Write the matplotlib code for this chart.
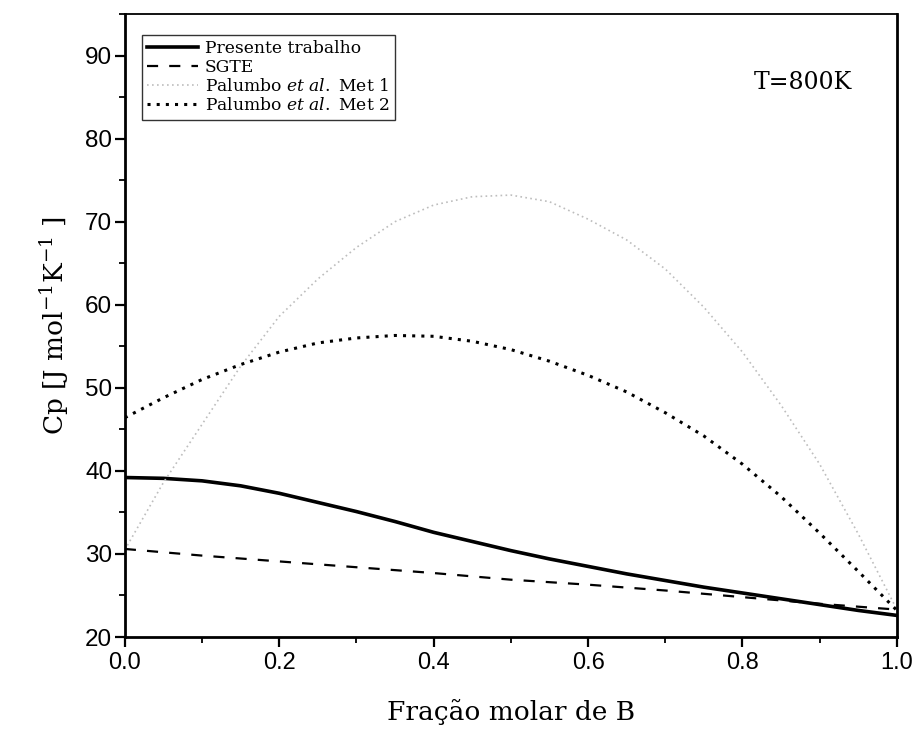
import numpy as np
import matplotlib
matplotlib.use("Agg")
import matplotlib.pyplot as plt
from matplotlib.ticker import MultipleLocator

# composition grid (molar fraction of B)
x = [0.0, 0.05, 0.1, 0.15, 0.2, 0.25, 0.3, 0.35, 0.4, 0.45, 0.5,
     0.55, 0.6, 0.65, 0.7, 0.75, 0.8, 0.85, 0.9, 0.95, 1.0]

# Cp values
presente = [39.2, 39.1, 38.8, 38.2, 37.3, 36.2, 35.1, 33.9, 32.6, 31.5, 30.4,
            29.4, 28.5, 27.6, 26.8, 26.0, 25.3, 24.6, 23.9, 23.2, 22.6]
sgte = [30.6, 30.2, 29.8, 29.45, 29.1, 28.75, 28.4, 28.05, 27.7, 27.3, 26.9,
        26.6, 26.3, 25.95, 25.6, 25.2, 24.8, 24.4, 24.0, 23.65, 23.3]
met1 = [30.5, 38.6, 45.6, 52.6, 58.6, 63.1, 66.9, 70.0, 72.0, 73.0, 73.2,
        72.4, 70.3, 67.8, 64.3, 59.7, 54.3, 47.9, 40.8, 32.4, 23.3]
met2 = [46.4, 48.8, 51.0, 52.8, 54.3, 55.4, 56.0, 56.3, 56.2, 55.6, 54.6,
        53.2, 51.5, 49.5, 47.0, 44.2, 40.8, 36.9, 32.5, 27.9, 23.2]

serif = "DejaVu Serif"
plt.rcParams["mathtext.fontset"] = "dejavuserif"

fig = plt.figure(figsize=(9.18, 7.36), dpi=100)
ax = fig.add_axes([0.136, 0.1345, 0.841, 0.8465])

ax.plot(x, presente, color="black", lw=2.6, label="Presente trabalho")
ax.plot(x, sgte, color="black", lw=1.6, dashes=(5, 5), label="SGTE")
ax.plot(x, met1, color="#bdbdbd", lw=1.2, dashes=(1, 2),
        label="Palumbo $\\it{et\\ al.}$ Met 1")
ax.plot(x, met2, color="black", lw=2.2, dashes=(1, 2),
        label="Palumbo $\\it{et\\ al.}$ Met 2")

ax.set_xlim(0, 1)
ax.set_ylim(20, 95)
ax.xaxis.set_major_locator(MultipleLocator(0.2))
ax.xaxis.set_minor_locator(MultipleLocator(0.1))
ax.yaxis.set_major_locator(MultipleLocator(10))
ax.yaxis.set_minor_locator(MultipleLocator(5))
ax.set_xticks([0, 0.2, 0.4, 0.6, 0.8, 1.0])
ax.set_xticklabels(["0.0", "0.2", "0.4", "0.6", "0.8", "1.0"],
                   family=["Liberation Sans Narrow", "Liberation Sans"], fontsize=17)
ax.set_yticks([20, 30, 40, 50, 60, 70, 80, 90])
ax.set_yticklabels(["20", "30", "40", "50", "60", "70", "80", "90"],
                   family="Liberation Sans", fontsize=17.5)

ax.tick_params(which="major", direction="out", length=7, width=1.6, pad=4)
ax.tick_params(axis="y", which="major", pad=2)
ax.tick_params(which="minor", direction="out", length=4, width=1.3)
ax.spines["left"].set_linewidth(2.0)
ax.spines["bottom"].set_linewidth(2.0)
ax.spines["right"].set_linewidth(2.0)
ax.spines["top"].set_linewidth(1.3)

ax.set_xlabel("Fração molar de B", family=serif, fontsize=19, labelpad=18)
ax.set_ylabel("Cp [J mol$^{\\mathregular{-1}}$K$^{\\mathregular{-1}}$ ]",
              family=serif, fontsize=19, labelpad=10)

ax.text(0.814, 0.89, "T=800K", transform=ax.transAxes, family=serif,
        fontsize=17, ha="left", va="center")

leg = ax.legend(loc="upper left", bbox_to_anchor=(0.022, 0.966),
                prop={"family": serif, "size": 12.3}, frameon=True,
                fancybox=False, edgecolor="black", handlelength=3.0,
                handletextpad=0.4, labelspacing=0.12, borderpad=0.3,
                borderaxespad=0)
leg.get_frame().set_linewidth(1.0)

fig.savefig("out.png", dpi=100)
